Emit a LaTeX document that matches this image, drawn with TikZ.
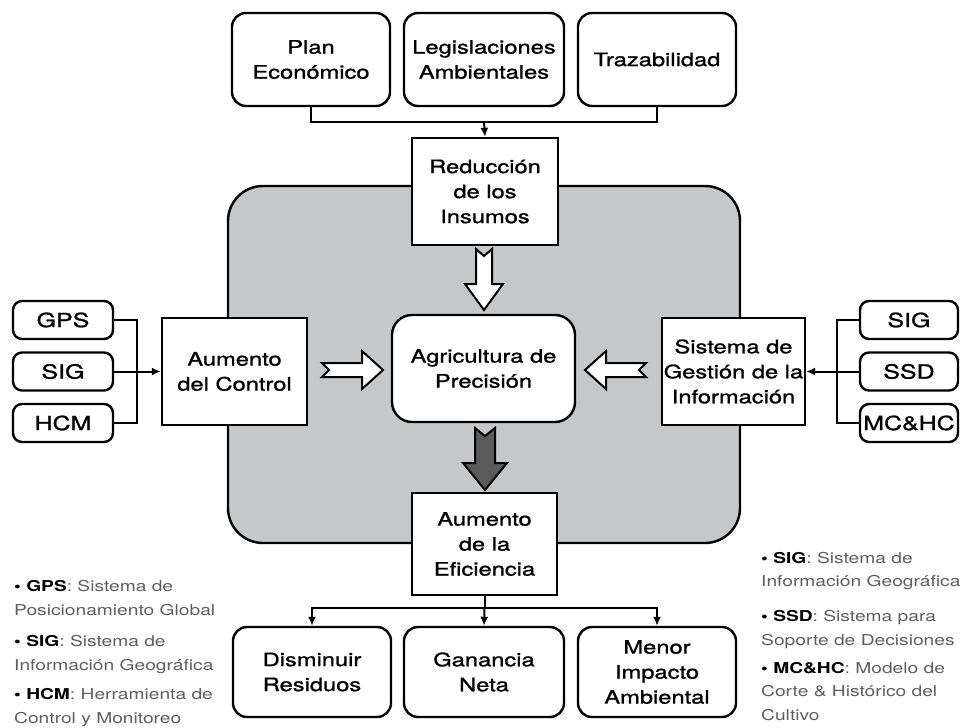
\documentclass[tikz,border=0pt]{standalone}
\usepackage{fontspec}
\setmainfont{TeX Gyre Heros}[FakeStretch=1.28]
\newfontfamily\boxfont{TeX Gyre Heros}[FakeStretch=1.28,FakeBold=1.2]
\usetikzlibrary{arrows.meta,calc}
\definecolor{grayreg}{HTML}{C6C7C9}
\definecolor{darkarr}{HTML}{5A5A5A}
\definecolor{legtxt}{HTML}{5E5E5E}
\begin{document}
\begin{tikzpicture}[x=1pt,y=-1pt,
 box/.style={draw, line width=2.4pt, fill=white, align=center, inner sep=0pt, font=\boxfont\fontsize{18.5}{25}\selectfont},
 rbox/.style={box, rounded corners=14pt},
 sbox/.style={box, rounded corners=9pt, font=\boxfont\fontsize{19.5}{25}\selectfont},
 conn/.style={line width=2pt},
 arr/.style={conn, -{Latex[length=9pt,width=8pt]}},
 fat/.style={line width=2pt, line join=miter},
 legend/.style={align=left, inner sep=0pt, anchor=base west, text=legtxt, font=\fontsize{15}{24}\selectfont},
 ab/.style={}]
\useasboundingbox (0,0) rectangle (961,728);
% grey region
\draw[line width=2.4pt, fill=grayreg, rounded corners=35pt] (228,186) rectangle (740,543);
% top boxes
\node[rbox, minimum width=158, minimum height=93] (plan) at (311,59.5) {Plan\\Económico};
\node[rbox, minimum width=160, minimum height=93] (leg) at (484,59.5) {Legislaciones\\Ambientales};
\node[rbox, minimum width=158, minimum height=93] (traz) at (657,59.5) {Trazabilidad};
% central boxes
\node[box, minimum width=146, minimum height=107] (red) at (485,191.5) {Reducción\\de los\\Insumos};
\node[box, rounded corners=20pt, minimum width=183, minimum height=107] (agr) at (483.5,368.5) {Agricultura de\\Precisión};
\node[box, minimum width=145, minimum height=102] (eff) at (484.5,544) {Aumento\\de la\\Eficiencia};
\node[box, minimum width=145, minimum height=107] (ctl) at (234.5,371.5) {Aumento\\del Control};
\node[box, minimum width=143, minimum height=107] (sgi) at (733.5,371.5) {Sistema de\\Gestión de la\\Información};
% bottom boxes
\node[rbox, minimum width=158, minimum height=90] (dis) at (312,672) {Disminuir\\Residuos};
\node[rbox, minimum width=160, minimum height=90] (gan) at (484,672) {Ganancia\\Neta};
\node[rbox, minimum width=158, minimum height=90] (men) at (657,672) {Menor\\Impacto\\Ambiental};
% left small boxes
\node[sbox, minimum width=100, minimum height=38] (gps) at (63,320) {GPS};
\node[sbox, minimum width=100, minimum height=38] (sigl) at (63,371.5) {SIG};
\node[sbox, minimum width=100, minimum height=38] (hcm) at (63,423) {HCM};
% right small boxes
\node[sbox, minimum width=98, minimum height=38] (sigr) at (909,320) {SIG};
\node[sbox, minimum width=98, minimum height=38] (ssd) at (909,371.5) {SSD};
\node[sbox, minimum width=98, minimum height=38] (mchc) at (909,423) {MC\&HC};
% top connectors
\coordinate (tj) at (484,122);
\draw[conn] (plan.south) -- (plan.south |- tj) -- (traz.south |- tj) -- (traz.south);
\draw[arr] (tj) -- (red.north);
% bottom connectors
\coordinate (bj) at (484.5,608);
\draw[conn] (eff.south) -- (bj);
\draw[arr] (bj) -- (gan.north);
\draw[arr] (bj) -| (dis.north);
\draw[arr] (bj) -| (men.north);
% left connectors
\coordinate (lj) at (137,371.5);
\draw[conn] (gps.east) -| (lj) |- (hcm.east);
\draw[arr] (sigl.east) -- (ctl.west);
% right connectors
\coordinate (rj) at (837,371.5);
\draw[conn] (sigr.west) -| (rj) |- (mchc.west);
\draw[arr] (ssd.west) -- (sgi.east);
% block arrows
\draw[fat, fill=white] (476,249) -- (484,256) -- (492,249) -- (492,284) -- (503,284) -- (484,310) -- (465,284) -- (476,284) -- cycle;
\draw[fat, fill=darkarr] (475,428) -- (485,436) -- (495,428) -- (495,463) -- (507,463) -- (485,490) -- (463,463) -- (475,463) -- cycle;
\draw[fat, fill=white] (322,363) -- (329,370) -- (322,377) -- (362,377) -- (362,389) -- (383,370) -- (362,351) -- (362,363) -- cycle;
\draw[fat, fill=white] (646,363) -- (639,370) -- (646,377) -- (606,377) -- (606,389) -- (585,370) -- (606,351) -- (606,363) -- cycle;
% legends left (anchor = baseline of last line)
\node[legend] (l1) at (14,615) {{\color{black}\textbf{• GPS}}: Sistema de\\Posicionamiento Global};
\node[legend] (l2) at (14,670) {{\color{black}\textbf{• SIG}}: Sistema de\\Información Geográfica};
\node[legend] (l3) at (14,723) {{\color{black}\textbf{• HCM}}: Herramienta de\\Control y Monitoreo};
% legends right
\node[legend, font=\fontsize{15}{23}\selectfont] (r1) at (761,586) {{\color{black}\textbf{• SIG}}: Sistema de\\Información Geográfica};
\node[legend, font=\fontsize{15}{24}\selectfont] (r2) at (761,645) {{\color{black}\textbf{• SSD}}: Sistema para\\Soporte de Decisiones};
\node[legend, font=\fontsize{15}{23.5}\selectfont] (r3) at (761,720) {{\color{black}\textbf{• MC\&HC}}: Modelo de\\Corte \& Histórico del\\Cultivo};
\end{tikzpicture}
\end{document}
